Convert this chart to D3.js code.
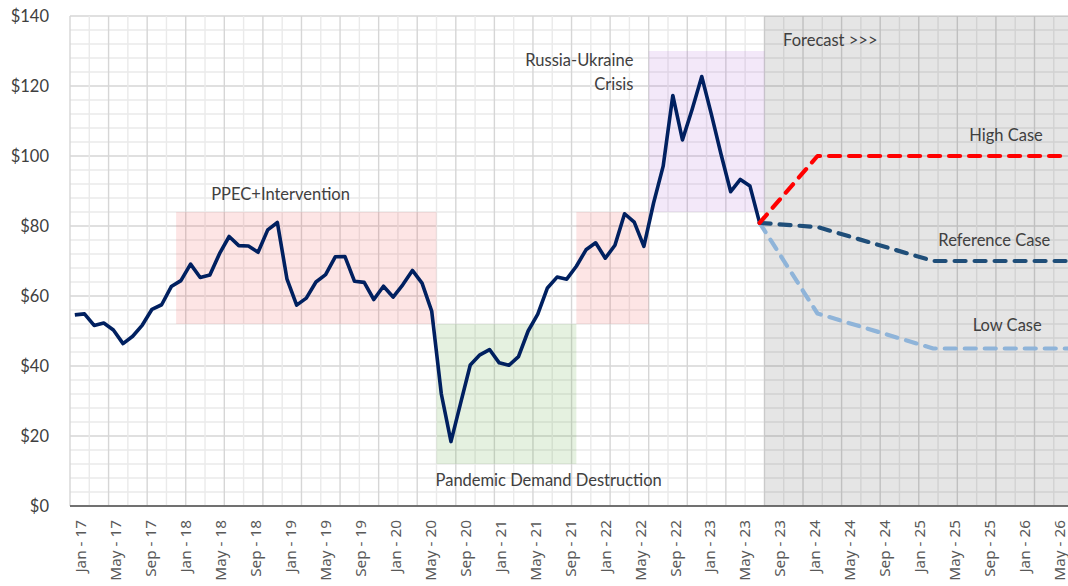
<!DOCTYPE html>
<html><head><meta charset="utf-8">
<script src="https://cdn.jsdelivr.net/npm/d3@7"></script>
<style>body{margin:0;background:#fff}svg{display:block}</style></head>
<body><svg id="chart" width="1068" height="586"></svg>
<script>
// ---------------- DATA ----------------
const monthNames = ["Jan","Feb","Mar","Apr","May","Jun","Jul","Aug","Sep","Oct","Nov","Dec"];
const startYear = 2017;
// monthly price, Jan 2017 .. Dec 2022
const historyValues = [
  54.6, 54.9, 51.6, 52.3, 50.3, 46.4, 48.5, 51.7, 56.2, 57.5, 62.7, 64.4,
  69.1, 65.3, 66.0, 72.1, 77.0, 74.4, 74.3, 72.5, 78.9, 81.0, 64.8, 57.4,
  59.4, 64.0, 66.1, 71.2, 71.3, 64.2, 63.9, 59.0, 62.8, 59.7, 63.2, 67.3,
  63.7, 55.7, 32.0, 18.4, 29.4, 40.3, 43.2, 44.7, 40.9, 40.2, 42.7, 50.0,
  54.8, 62.3, 65.4, 64.8, 68.5, 73.2, 75.2, 70.8, 74.5, 83.5, 81.1, 74.2,
  86.5, 97.1, 117.3, 104.6, 113.3, 122.7, 111.9, 100.5, 89.8, 93.3, 91.4, 80.9
];
// forecast: month index (0 = Jan 2017)
const forecastMonths = [71, 77, 89, 103];
const highCase      = [80.9, 100, 100, 100];
const referenceCase = [80.9, 79.7, 70, 70];
const lowCase       = [80.9, 55, 45, 45];
const forecastNames = ["High Case", "Reference Case", "Low Case"];

// highlighted periods: [startMonth, endMonth, lowValue, highValue]
const periodNames  = ["PPEC+Intervention", "Pandemic Demand Destruction", "Recovery", "Russia-Ukraine Crisis", "Forecast"];
const periodStart  = [11, 38, 52.5, 60, 72];
const periodEnd    = [38, 52.5, 60, 72, 104];
const periodLow    = [52, 12, 52, 84, 0];
const periodHigh   = [84, 52, 84, 130, 140];

const yTicks = [0, 20, 40, 60, 80, 100, 120, 140];
const labelMonthCount = 114;   // Jan 17 .. Jun 26 on the category axis
const gridMonthCount = 104;

// annotation texts: [text, month, value, anchor]
const annText   = ["PPEC+Intervention", "Pandemic Demand Destruction", "Russia-Ukraine", "Crisis", "Forecast >>>", "High Case", "Reference Case", "Low Case"];
const annMonth  = [21.83, 49.63, 58.42, 58.42, 73.93, 93.24, 90.03, 93.59];
const annValue  = [87.4, 5.7, 125.6, 118.9, 131.3, 104.4, 74.4, 50.0];
const annAnchor = ["middle", "middle", "end", "end", "start", "start", "start", "start"];

// ---------------- CHART ----------------
const W = 1068, H = 586;
const L = 70, T = 16, B = 506;
const monthPx = 9.645;
const svg = d3.select("#chart");

const x = d3.scaleLinear().domain([0, gridMonthCount]).range([L, L + gridMonthCount * monthPx]);
const y = d3.scaleLinear().domain([0, 140]).range([B, T]);
const mid = i => x(i + 0.5);

// gridlines
const g = svg.append("g");
const hMinor = d3.range(0, 141, 4);
g.selectAll("line.hm").data(hMinor).join("line")
  .attr("x1", L).attr("x2", W).attr("y1", d => y(d)).attr("y2", d => y(d))
  .attr("stroke", d => d % 20 === 0 ? "#d6d6d6" : "#eaeaea").attr("stroke-width", 1.4);
const vLines = d3.range(0, gridMonthCount + 1, 2);
g.selectAll("line.vm").data(vLines).join("line")
  .attr("y1", T).attr("y2", B).attr("x1", d => x(d)).attr("x2", d => x(d))
  .attr("stroke", d => d % 4 === 0 ? "#d6d6d6" : "#eaeaea").attr("stroke-width", 1.4);

// period boxes
const periodFill = ["rgba(240,70,70,0.14)", "rgba(100,170,70,0.17)", "rgba(240,70,70,0.14)", "rgba(160,80,210,0.13)", "rgba(0,0,0,0.10)"];
svg.append("g").selectAll("rect").data(periodNames).join("rect")
  .attr("x", (d, i) => x(periodStart[i]))
  .attr("width", (d, i) => x(periodEnd[i]) - x(periodStart[i]))
  .attr("y", (d, i) => y(periodHigh[i]))
  .attr("height", (d, i) => y(periodLow[i]) - y(periodHigh[i]))
  .attr("fill", (d, i) => periodFill[i]);

// y axis
const yAxis = svg.append("g").attr("transform", `translate(${L},0)`)
  .call(d3.axisLeft(y).tickValues(yTicks).tickFormat(d => "$" + d).tickSize(0).tickPadding(21));
yAxis.select(".domain").remove();
yAxis.selectAll("text").attr("font-family", "Lato").attr("font-size", 16.5).attr("fill", "#404040");

// category label axis
const labelMonths = d3.range(labelMonthCount).map(i => {
  const yr = startYear + Math.floor(i / 12);
  return monthNames[i % 12] + " - " + String(yr).slice(2);
});
const xLab = d3.scaleBand().domain(labelMonths).range([76.3, 76.3 + labelMonthCount * 8.74]);
const xAxis = svg.append("g").attr("transform", `translate(0,${B})`)
  .call(d3.axisBottom(xLab).tickValues(labelMonths.filter((d, i) => i % 4 === 0)).tickSize(0));
xAxis.select(".domain").remove();
xAxis.selectAll("text")
  .attr("transform", "rotate(-90)").attr("x", -14).attr("y", 0).attr("dy", "0.36em")
  .style("text-anchor", "end")
  .attr("font-family", "Noto Sans").attr("font-size", 15.3).attr("fill", "#595959");

svg.append("line").attr("x1", L).attr("x2", W).attr("y1", B).attr("y2", B)
  .attr("stroke", "#4d4d4d").attr("stroke-width", 1.6);

// history line
const line = d3.line().x((d, i) => mid(i)).y(d => y(d));
svg.append("path").datum(historyValues).attr("d", line)
  .attr("fill", "none").attr("stroke", "#002060").attr("stroke-width", 3.6)
  .attr("stroke-linejoin", "round");

// forecast lines
const fLine = d3.line().x((d, i) => mid(forecastMonths[i])).y(d => y(d));
const fSeries = [highCase, referenceCase, lowCase];
const fColors = ["#ff0000", "#1f4e79", "#8fb4d9"];
[2, 1, 0].forEach(k => {
  svg.append("path").datum(fSeries[k]).attr("d", fLine)
    .attr("fill", "none").attr("stroke", fColors[k]).attr("stroke-width", 4.2)
    .attr("stroke-dasharray", "11,9").attr("stroke-linecap", "round").attr("stroke-linejoin", "round");
});

// annotations
svg.append("g").selectAll("text").data(annText).join("text")
  .attr("x", (d, i) => x(annMonth[i])).attr("y", (d, i) => y(annValue[i]))
  .attr("text-anchor", (d, i) => annAnchor[i])
  .attr("font-family", "Lato").attr("font-size", 16.5).attr("fill", "#404040")
  .text(d => d);
</script>
</body></html>
